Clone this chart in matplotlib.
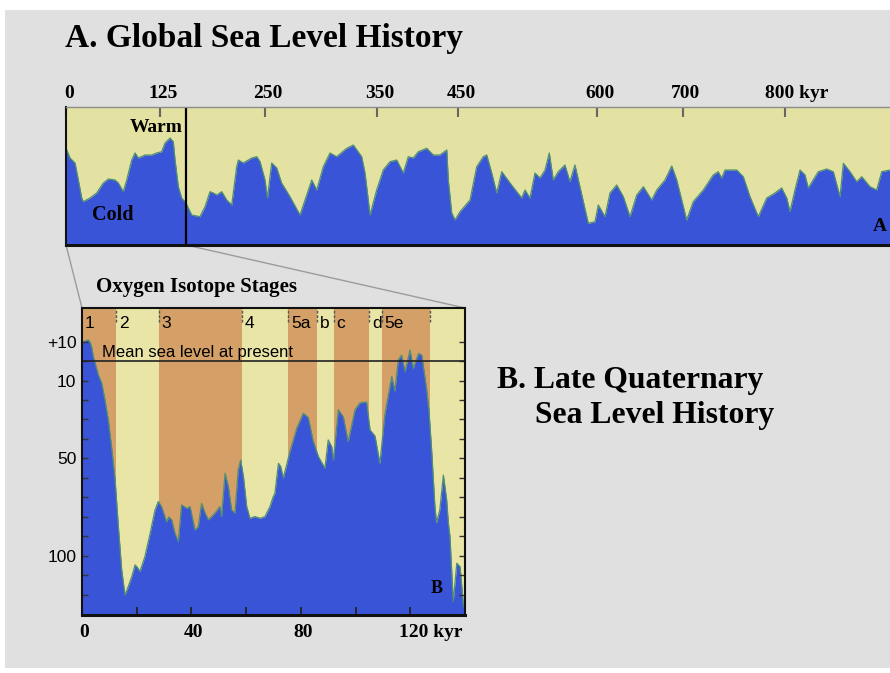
import numpy as np
import matplotlib
matplotlib.use("Agg")
import matplotlib.pyplot as plt
from matplotlib.patches import Rectangle, ConnectionPatch
import matplotlib.transforms as mtransforms

# ---------------------------------------------------------------- data
# A. Global sea level history: age (kyr) and relative sea level (arbitrary units, 0-138)
top_age = [0, 5.3, 12, 16.4, 20.9, 23, 31.9, 40.8, 49.6, 56.3, 65.2, 69.6, 76.2, 80.7,
           87.4, 91.8, 96.3, 105.2, 114, 120.7, 127, 131, 136.9, 140.8, 142.9, 146.8,
           150.8, 155.9, 162.7, 172.6, 178.6, 184.5, 188.5, 192.5, 198.5, 204.4, 210.4,
           216.3, 218.3, 224.2, 234.2, 240.2, 244.1, 250, 252.2, 256, 260.5, 264.9,
           272.4, 281.4, 285.9, 291.9, 296.4, 302.3, 308.3, 314.3, 323.3, 329.2, 336.7,
           339.7, 344.2, 350.2, 358.3, 366.6, 374.8, 382.9, 389, 395.2, 401.3, 411.6,
           419.7, 427.9, 436.2, 438.1, 442.3, 446.3, 452.2, 463, 470.2, 477.3, 481,
           486.4, 491.8, 497.2, 506.1, 518.7, 522.3, 527.7, 533.1, 538.5, 543.9, 548.5,
           552.8, 558.2, 565.4, 570.8, 576.2, 581.6, 590.6, 597.8, 601.5, 609.3, 615.1,
           622.9, 630.6, 638.4, 646.2, 653.9, 663.6, 669.5, 679.1, 686.9, 692.7, 698.5,
           703.6, 710.1, 720, 729.8, 734.7, 738.1, 741.4, 752.9, 759.4, 766, 774.2,
           782.5, 790.6, 797.2, 802.2, 805.4, 810.3, 815.3, 820.2, 823.4, 833.3, 841.6,
           848.1, 854.7, 858, 864.5, 871.1, 876.1, 884.2, 890.8, 895.8, 904, 912]
top_level = [97, 87, 82, 65, 47, 43.3, 47, 52, 62, 66, 65, 62, 53.3, 65,
             85, 92, 87, 90, 90, 92, 93.3, 102, 107, 103.3, 85, 58.3,
             47, 42, 30, 28.3, 38.3, 53.3, 52, 50, 53.3, 45, 40,
             78.3, 85, 82, 87, 88.3, 83.3, 65, 47, 82, 77, 62,
             48.3, 30, 45, 65, 55, 78.3, 92, 88.3, 96.7, 100, 88.3,
             72, 30, 55, 75, 83.3, 85, 72, 88.3, 87, 93.3, 96.7,
             90, 90, 95, 65, 32, 25, 33.3, 45, 78.3, 88.3, 90,
             72, 52, 73.3, 62, 47, 55, 47, 72, 67, 75, 92,
             65, 73.3, 80, 63.3, 80, 58.3, 21.7, 23.3, 40, 28.3, 52,
             60, 48.3, 28.3, 50, 58.3, 45, 55, 65, 79, 65, 45,
             25, 43.3, 55, 70, 73.3, 67, 75, 75, 68.3, 48.3, 28.3,
             47, 52, 57, 47, 33.3, 55, 75, 70, 57, 73.3, 76,
             73.3, 48.3, 81.7, 73.3, 63.3, 68.3, 58.3, 55, 73.3, 75, 75]

# labelled ages on the upper axis and where they sit along it (px from the left edge)
top_ticks = [0, 125, 250, 350, 450, 600, 700, 800]
top_tick_labels = ["0", "125", "250", "350", "450", "600", "700", "800 kyr"]
top_tick_pos = [0, 94, 199, 310.5, 392, 531, 617, 718.5]
zoom_end_age = 156

# B. Late Quaternary sea level: age (kyr) and sea level relative to present (m)
b_age = [0, 0.5, 1.5, 2.3, 3.0, 3.5, 4.2, 4.8, 6.0, 7.2, 8.4, 9.6, 10.8, 12.1, 13.3,
         14.5, 15.7, 16.9, 18.2, 19.4, 20.3, 21.2, 23.0, 24.9, 26.7, 27.9, 29.1, 30.9,
         31.8, 32.8, 34.0, 35.2, 36.4, 38.3, 39.5, 41.3, 42.5, 43.7, 45.0, 46.2, 48.6,
         50.4, 51.0, 52.3, 53.5, 54.7, 55.9, 57.1, 58.0, 59.0, 60.2, 61.4, 63.2, 65.1,
         66.9, 68.7, 69.9, 70.5, 71.8, 72.6, 73.6, 76.0, 78.5, 80.9, 82.7, 84.5, 86.4,
         88.8, 90.0, 91.3, 91.9, 93.7, 95.5, 97.3, 99.8, 101.6, 104.0, 105.3, 107.1,
         108.9, 110.7, 113.2, 114.4, 115.6, 116.8, 118.1, 119.9, 121.1, 123.0, 124.2,
         125.4, 126.0, 126.8, 127.8, 129.0, 129.6, 130.8, 132.1, 133.3, 133.9, 134.5,
         135.7, 137.0, 138.2, 139.4, 140.0]
b_level = [9, 9.9, 10.5, 10.8, 9.5, 7.3, 2, -1, -7.2, -11.3, -20, -30, -44, -61, -85,
           -107, -120, -115.7, -110.6, -104.6, -106, -108, -100.3, -88.4, -76.4, -72.1, -74.7, -82.4,
           -80, -81.5, -88.4, -92.6, -73.8, -75.6, -74.7, -86.7, -85, -73, -78, -81.5, -78,
           -74.7, -79.8, -57.6, -64.4, -76.4, -78, -55.9, -50.8, -59.3, -74.7, -80.7, -79.8, -80.7,
           -79.8, -74.7, -69.6, -67.9, -52.5, -54, -60, -46.5, -34.5, -26.8, -29, -41, -49,
           -55, -40.5, -44, -50.8, -25, -28.6, -41.4, -25, -21.5, -21, -35.4, -38.5,
           -52.5, -27.5, -8, -15.5, 0.5, 3, -5.5, 5.6, -3.8, 3.9, 3,
           -8.9, -15, -25, -45.6, -74.7, -83, -76.4, -58.5, -71.3, -83, -90,
           -123.5, -103.7, -105.5, -125, -127.7]

# oxygen isotope stages: start age (kyr) and label
stage_start = [0, 12.4, 28, 58.4, 75.4, 85.8, 92, 105, 109.5, 127.3]
stage_label = ["1", "2", "3", "4", "5a", "b", "c", "d", "5e", ""]

b_ticks = [0, 40, 80, 120]
b_tick_labels = ["0", "40", "80", "120 kyr"]
b_yticks = [10, -10, -50, -100]
b_ytick_labels = ["+10", "10", "50", "100"]

# ---------------------------------------------------------------- style
W, H = 890, 673
SERIF = ["Liberation Serif", "DejaVu Serif"]
SANS = ["Liberation Sans", "DejaVu Sans"]
GREY = "#e0e0e0"
BLUE = "#3a54d8"
EDGE = "#4f8f72"
TOP_YELLOW = "#e3e2a2"
YELLOW = "#e8e5a6"
ORANGE = "#d4a067"
PT = 0.72  # points per pixel at 100 dpi


def _piecewise(x, xs, ys):
    x = np.asarray(x, dtype=float)
    xs = np.asarray(xs, dtype=float)
    ys = np.asarray(ys, dtype=float)
    y = np.interp(x, xs, ys)
    s0 = (ys[1] - ys[0]) / (xs[1] - xs[0])
    s1 = (ys[-1] - ys[-2]) / (xs[-1] - xs[-2])
    y = np.where(x < xs[0], ys[0] + (x - xs[0]) * s0, y)
    y = np.where(x > xs[-1], ys[-1] + (x - xs[-1]) * s1, y)
    return y


def age_to_pos(a):
    return _piecewise(a, top_ticks, top_tick_pos)


def pos_to_age(p):
    return _piecewise(p, top_tick_pos, top_ticks)


fig = plt.figure(figsize=(W / 100, H / 100), dpi=100)
fig.patch.set_facecolor("white")
fig.add_artist(Rectangle((5 / W, 5 / H), 885 / W, 658 / H, transform=fig.transFigure,
                         facecolor=GREY, edgecolor="none", zorder=-5))

# ---------------------------------------------------------------- panel A
axA = fig.add_axes([66 / W, 1 - 245 / H, 829 / W, 138 / H])
axA.set_facecolor(TOP_YELLOW)
axA.set_xscale("function", functions=(age_to_pos, pos_to_age))
axA.fill_between(top_age, top_level, 0, color=BLUE, lw=0)
axA.plot(top_age, top_level, color=EDGE, lw=0.9)
axA.set_xlim(0, float(pos_to_age(829)))
axA.set_ylim(0, 138)
axA.axvline(zoom_end_age, color="black", lw=1.6)

for side in ("left", "bottom"):
    axA.spines[side].set_color("#111111")
axA.spines["left"].set_linewidth(1.5)
axA.spines["bottom"].set_linewidth(2.2)
axA.spines["top"].set_color("#8c8c8c")
axA.spines["top"].set_linewidth(1.0)
axA.spines["right"].set_visible(False)

axA.set_xticks(top_ticks)
axA.set_yticks([])
axA.xaxis.set_minor_locator(matplotlib.ticker.NullLocator())
axA.tick_params(axis="x", top=True, bottom=False, labeltop=False, labelbottom=False,
                direction="in", length=10 * PT, width=1.5, color="#666666")

for a, lab in zip(top_ticks, top_tick_labels):
    if lab.endswith("kyr"):
        ha, dx = "left", -19.5 * PT
    else:
        ha, dx = "center", 3 * PT
    axA.annotate(lab, xy=(a, 1), xycoords=("data", "axes fraction"),
                 xytext=(dx, 9 * PT), textcoords="offset points", ha=ha, va="baseline",
                 fontsize=14, fontweight="bold", family=SERIF, annotation_clip=False)

axA.text(64 / 829, (245 - 131.7) / 138, "Warm", transform=axA.transAxes, ha="left",
         va="baseline", fontsize=14, fontweight="bold", family=SERIF)
axA.text(26 / 829, (245 - 220) / 138, "Cold", transform=axA.transAxes, ha="left",
         va="baseline", fontsize=14.5, fontweight="bold", family=SERIF)
axA.text(814 / 829, (245 - 231) / 138, "A", transform=axA.transAxes, ha="center",
         va="baseline", fontsize=14, fontweight="bold", family=SERIF)

# ---------------------------------------------------------------- panel B
axB = fig.add_axes([82 / W, 1 - 615 / H, 383 / W, 307 / H])
axB.set_xlim(0, 140)
axB.set_ylim(-130.3, 27.2)

bounds = stage_start + [140]
for i in range(len(stage_start)):
    axB.axvspan(bounds[i], bounds[i + 1], color=ORANGE if i % 2 == 0 else YELLOW,
                lw=0, zorder=0)
axB.fill_between(b_age, b_level, -131, color=BLUE, lw=0, zorder=1)
axB.plot(b_age, b_level, color=EDGE, lw=0.9, zorder=1.5)
axB.axhline(0, color="#222222", lw=1.2, zorder=2)

for s in stage_start[1:]:
    axB.axvline(s, ymin=0.955, ymax=1, color="#555555", lw=1.0, ls=(0, (2, 1.2)), zorder=2)

stage_tr = mtransforms.blended_transform_factory(axB.transData, axB.transAxes)
stage_tr = mtransforms.offset_copy(stage_tr, fig=fig, x=3 * PT, y=0, units="points")
for s, lab in zip(stage_start, stage_label):
    axB.text(s, (615 - 328) / 307, lab, transform=stage_tr, ha="left", va="baseline",
             fontsize=12.5, family=SANS, zorder=3)

axB.text(7.2, 0, "Mean sea level at present", ha="left", va="baseline",
         fontsize=12, family=SANS, zorder=3,
         transform=mtransforms.offset_copy(axB.transData, fig=fig, x=0, y=4.5 * PT,
                                           units="points"))

for side in axB.spines:
    axB.spines[side].set_color("#111111")
    axB.spines[side].set_linewidth(1.5)
    axB.spines[side].set_zorder(4)
axB.spines["bottom"].set_linewidth(2.2)

axB.set_xticks(b_ticks)
axB.set_xticks([20, 60, 100], minor=True)
axB.tick_params(axis="x", which="both", direction="in", length=8 * PT, width=1.3,
                color="#222222", labelbottom=False)
axB.set_yticks(b_yticks)
axB.set_yticklabels(b_ytick_labels, family=SANS, fontsize=12.5)
axB.set_yticks(np.arange(-120, 11, 10), minor=True)
axB.tick_params(axis="y", which="both", direction="in", left=True, right=True,
                length=6 * PT, width=1.0, color="#333333", pad=4)

for a, lab in zip(b_ticks, b_tick_labels):
    if lab.endswith("kyr"):
        ha, dx = "left", -11 * PT
    else:
        ha, dx = "center", 2.5 * PT
    axB.annotate(lab, xy=(a, 0), xycoords=("data", "axes fraction"),
                 xytext=(dx, -21.7 * PT), textcoords="offset points", ha=ha,
                 va="baseline", fontsize=14, fontweight="bold", family=SERIF,
                 annotation_clip=False)

axB.text((437 - 82) / 383, (615 - 593) / 307, "B", transform=axB.transAxes, ha="center",
         va="baseline", fontsize=13, fontweight="bold", family=SERIF, zorder=3)

# lines linking the close-up to its span in the long record
for xyA, xyB in (((0, 0), (0, 1)), ((zoom_end_age, 0), (1, 1))):
    cp = ConnectionPatch(xyA=xyA, coordsA=axA.transData, xyB=xyB, coordsB=axB.transAxes,
                         color="#9c9c9c", lw=1.0, zorder=-1)
    fig.add_artist(cp)

# ---------------------------------------------------------------- titles
fig.text(65 / W, 1 - 47 / H, "A. Global Sea Level History", ha="left", va="baseline",
         fontsize=24, fontweight="bold", family=SERIF)
fig.text(497 / W, 1 - 388 / H, "B. Late Quaternary", ha="left", va="baseline",
         fontsize=22.8, fontweight="bold", family=SERIF)
fig.text(535 / W, 1 - 423 / H, "Sea Level History", ha="left", va="baseline",
         fontsize=22.8, fontweight="bold", family=SERIF)
fig.text(96 / W, 1 - 292 / H, "Oxygen Isotope Stages", ha="left", va="baseline",
         fontsize=15, fontweight="bold", family=SERIF)

fig.savefig("out.png", dpi=100, facecolor=fig.get_facecolor())
